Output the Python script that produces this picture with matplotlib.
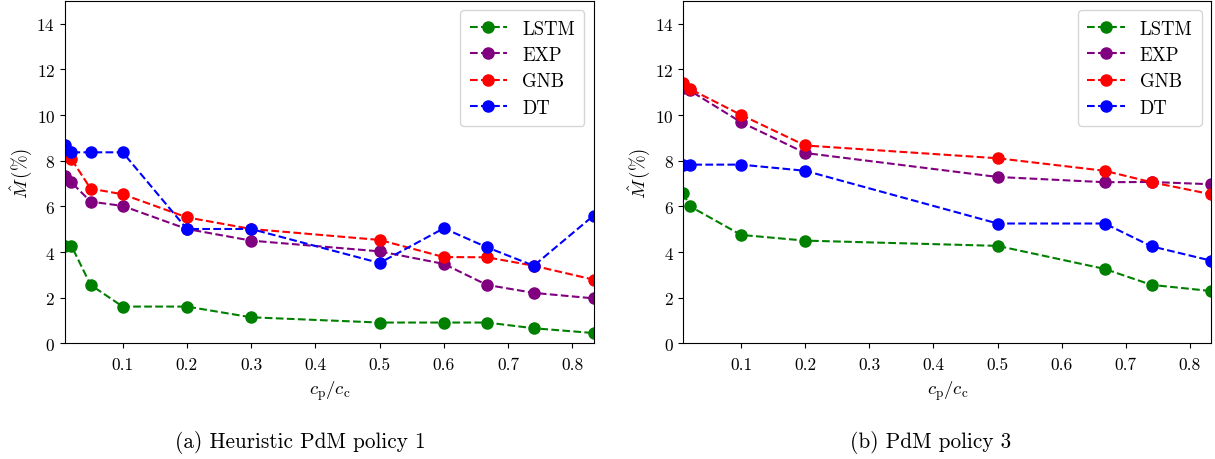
import numpy as np
import matplotlib
matplotlib.use("Agg")
import matplotlib.pyplot as plt

plt.rcParams['font.family'] = 'serif'
plt.rcParams['font.serif'] = ['cmr10', 'DejaVu Serif']
plt.rcParams['mathtext.fontset'] = 'cm'
plt.rcParams['axes.formatter.use_mathtext'] = True

# policy 1 (heuristic)
x1 = [0.01, 0.02, 0.05, 0.1, 0.2, 0.3, 0.5, 0.6, 0.667, 0.74, 0.8333]
lstm1 = [4.28, 4.28, 2.56, 1.61, 1.61, 1.14, 0.91, 0.91, 0.91, 0.66, 0.45]
exp1 = [7.32, 7.06, 6.21, 6.02, 5.01, 4.50, 4.03, 3.48, 2.56, 2.21, 1.97]
gnb1 = [8.42, 8.08, 6.78, 6.53, 5.52, 5.01, 4.53, 3.78, 3.77, 3.40, 2.79]
dt1 = [8.70, 8.37, 8.37, 8.37, 5.01, 5.01, 3.52, 5.04, 4.21, 3.40, 5.60]

# policy 3
x3 = [0.01, 0.02, 0.1, 0.2, 0.5, 0.667, 0.74, 0.8333]
lstm3 = [6.58, 6.01, 4.75, 4.50, 4.27, 3.26, 2.56, 2.29]
exp3 = [11.2, 11.08, 9.69, 8.34, 7.29, 7.06, 7.07, 6.97]
gnb3 = [11.41, 11.15, 10.01, 8.67, 8.11, 7.56, 7.06, 6.53]
dt3 = [7.83, 7.83, 7.83, 7.56, 5.25, 5.25, 4.25, 3.62]

labels = ['LSTM', 'EXP', 'GNB', 'DT']
colors = ['green', 'purple', 'red', 'blue']
captions = ['(a) Heuristic PdM policy 1', '(b) PdM policy 3']

fig = plt.figure(figsize=(12.15, 4.6), dpi=100)
ax1 = fig.add_axes([0.0534, 0.2515, 0.4352, 0.7441])
ax2 = fig.add_axes([0.5624, 0.2515, 0.4346, 0.7441])

panels = [(ax1, x1, [lstm1, exp1, gnb1, dt1]), (ax2, x3, [lstm3, exp3, gnb3, dt3])]
for ax, x, series in panels:
    for ys, lab, c in zip(series, labels, colors):
        ax.plot(x, ys, '--o', color=c, label=lab, markersize=8, linewidth=1.5)
    ax.set_xlim(x[0], x[-1])
    ax.set_ylim(0, 15)
    ax.set_yticks(np.arange(0, 15, 2))
    ax.set_xticks(np.arange(0.1, 0.81, 0.1))
    ax.set_xticklabels(['%.1f' % v for v in np.arange(0.1, 0.81, 0.1)])
    ax.tick_params(labelsize=12.5)
    ax.tick_params(axis='x', pad=6)
    ax.set_xlabel(r'$c_{\rm p}/c_{\rm c}$', fontsize=13.5, labelpad=5)
    ax.set_ylabel(r'$\hat{M}\,(\%)$', fontsize=13.5, labelpad=2)
    ax.legend(loc='upper right', fontsize=13.5, numpoints=1, borderpad=0.5,
              labelspacing=0.45, handletextpad=0.8)

fig.text(0.247, 0.037, captions[0], ha='center', va='center', fontsize=15.3)
fig.text(0.766, 0.037, captions[1], ha='center', va='center', fontsize=15.3)

fig.savefig('out.png', dpi=100)
